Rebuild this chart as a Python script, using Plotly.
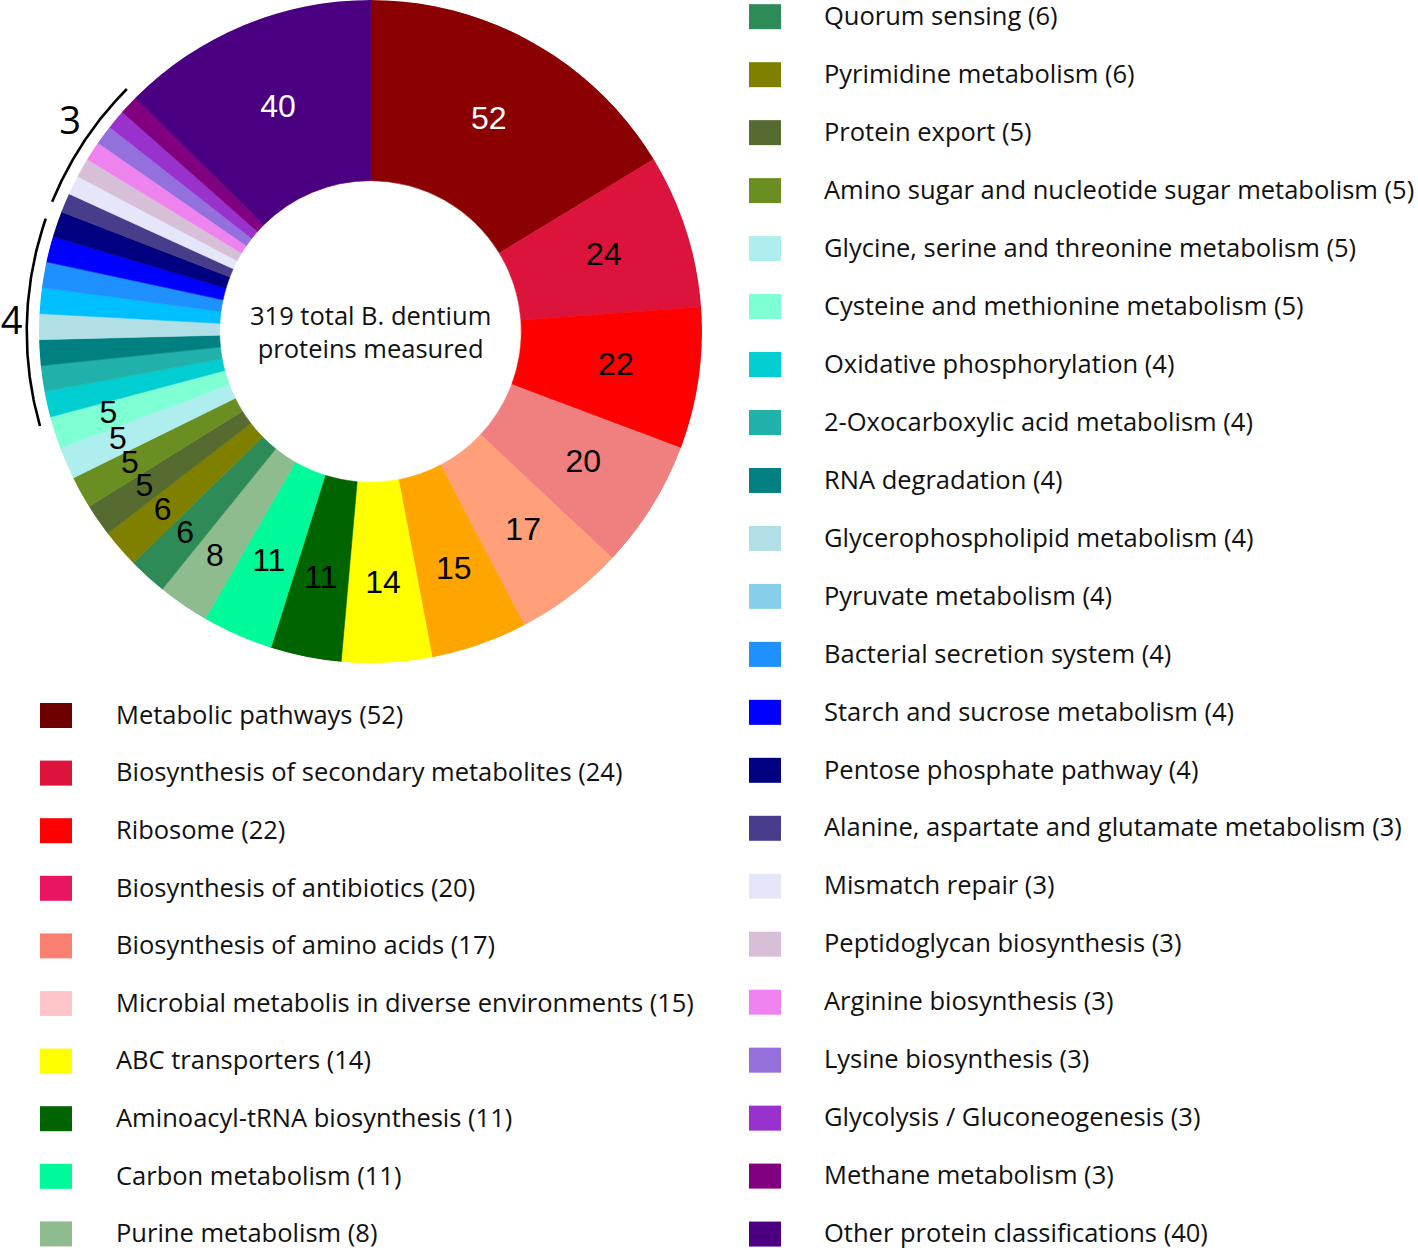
import numpy as np
import plotly.graph_objects as go

# ---------------- data ----------------
categories = [
    "Metabolic pathways", "Biosynthesis of secondary metabolites", "Ribosome",
    "Biosynthesis of antibiotics", "Biosynthesis of amino acids",
    "Microbial metabolis in diverse environments", "ABC transporters",
    "Aminoacyl-tRNA biosynthesis", "Carbon metabolism", "Purine metabolism",
    "Quorum sensing", "Pyrimidine metabolism", "Protein export",
    "Amino sugar and nucleotide sugar metabolism",
    "Glycine, serine and threonine metabolism",
    "Cysteine and methionine metabolism", "Oxidative phosphorylation",
    "2-Oxocarboxylic acid metabolism", "RNA degradation",
    "Glycerophospholipid metabolism", "Pyruvate metabolism",
    "Bacterial secretion system", "Starch and sucrose metabolism",
    "Pentose phosphate pathway", "Alanine, aspartate and glutamate metabolism",
    "Mismatch repair", "Peptidoglycan biosynthesis", "Arginine biosynthesis",
    "Lysine biosynthesis", "Glycolysis / Gluconeogenesis", "Methane metabolism",
    "Other protein classifications",
]
counts = [52, 24, 22, 20, 17, 15, 14, 11, 11, 8, 6, 6, 5, 5, 5, 5,
          4, 4, 4, 4, 4, 4, 4, 4, 3, 3, 3, 3, 3, 3, 3, 40]

slice_colors = [
    "#8B0000", "#DC143C", "#FF0000", "#F08080", "#FFA07A", "#FFA500", "#FFFF00",
    "#006400", "#00FA9A", "#8FBC8F", "#2E8B57", "#808000", "#556B2F", "#6B8E23",
    "#AFEEEE", "#7FFFD4", "#00CED1", "#20B2AA", "#008080", "#B0E0E6", "#00BFFF",
    "#1E90FF", "#0000FF", "#000080", "#483D8B", "#E6E6FA", "#D8BFD8", "#EE82EE",
    "#9370DB", "#9932CC", "#800080", "#4B0082",
]
legend_colors = [
    "#6F0000", "#DC143C", "#FF0000", "#E91562", "#FA8072", "#FFC5C8", "#FFFF00",
    "#006400", "#00FA9A", "#8FBC8F", "#2E8B57", "#808000", "#556B2F", "#6B8E23",
    "#AFEEEE", "#7FFFD4", "#00CED1", "#20B2AA", "#008080", "#B0E0E6", "#87CEEB",
    "#1E90FF", "#0000FF", "#000080", "#483D8B", "#E6E6FA", "#D8BFD8", "#EE82EE",
    "#9370DB", "#9932CC", "#800080", "#4B0082",
]
bracket_groups = [4, 3]          # counts grouped by an outer bracket
center_caption = "total B. dentium<br>proteins measured"

# ---------------- layout constants ----------------
W, H = 1418, 1250
HOLE = 0.455
PX0, PX1, PY0, PY1 = 38, 703, 0, 663          # donut box in pixels
DOM_X = [PX0 / W, PX1 / W]
DOM_Y = [1 - PY1 / H, 1 - PY0 / H]
CX, CY = (PX0 + PX1) / 2, (PY0 + PY1) / 2
RPX = min(PX1 - PX0, PY1 - PY0) / 2
TXT_FONT = "Open Sans, Noto Sans, sans-serif"
NUM_FONT = "Liberation Sans, Arial, sans-serif"
LEG_SIZE = 25.5

vals = np.array(counts, dtype=float)
total = int(vals.sum())
width = vals / total * 360.0
start = np.concatenate([[0.0], np.cumsum(width)[:-1]])
mid = start + width / 2

fig = go.Figure()

# donut sectors
fig.add_trace(go.Barpolar(
    theta=mid, width=width, r=[1 - HOLE] * len(vals), base=HOLE,
    marker=dict(color=slice_colors, line=dict(color=slice_colors, width=0.6)),
    hoverinfo="skip", showlegend=False,
))

# value labels inside sectors (only counts >= 5)
lab_idx = [i for i, v in enumerate(counts) if v >= 5]
lab_r = [(0.745 - 0.02 * np.cos(np.radians(mid[i]))) if counts[i] >= 11 else 0.83
         for i in lab_idx]
fig.add_trace(go.Scatterpolar(
    theta=[mid[i] for i in lab_idx],
    r=lab_r,
    text=[str(counts[i]) for i in lab_idx],
    mode="text",
    textfont=dict(family=NUM_FONT, size=32,
                  color=["white" if counts[i] >= 40 else "black" for i in lab_idx]),
    hoverinfo="skip", showlegend=False, cliponaxis=False,
))


def to_xy(theta_deg, rfrac):
    """clockwise-from-top angle -> pixel axis coords around the donut centre"""
    t = np.radians(theta_deg)
    return CX + rfrac * RPX * np.sin(t), CY - rfrac * RPX * np.cos(t)


# outer brackets for the small groups (drawn on the pixel cartesian axes)
for g in bracket_groups:
    idx = [i for i, v in enumerate(counts) if v == g]
    s = start[idx[0]]
    e = start[idx[-1]] + width[idx[-1]]
    off0, off1 = (-1.0, -2.0) if g == 4 else (1.0, 0.0)
    th = np.linspace(s + off0, e + off1, 80)
    ax_, ay_ = to_xy(th, 1.037)
    fig.add_trace(go.Scatter(
        x=ax_, y=ay_, mode="lines", line=dict(color="black", width=2.6),
        hoverinfo="skip", showlegend=False, cliponaxis=False,
    ))
    lx, ly = to_xy((s + e) / 2 + (-2.0 if g == 4 else 1.5), 1.083 if g == 4 else 1.10)
    fig.add_trace(go.Scatter(
        x=[lx], y=[ly], mode="text", text=[str(g)], textposition="middle center",
        textfont=dict(family=TXT_FONT, size=38, color="black"),
        hoverinfo="skip", showlegend=False, cliponaxis=False,
    ))

# ---------------- custom legend ----------------
shapes, annots = [], []
n_left = 10
for i, (name, v, c) in enumerate(zip(categories, counts, legend_colors)):
    if i < n_left:
        y = 715.5 + i * 57.6
        x0, tx = 40, 114
    else:
        y = 16.7 + (i - n_left) * 57.97
        x0, tx = 749, 822
    shapes.append(dict(type="rect", xref="x", yref="y", x0=x0, x1=x0 + 32,
                       y0=y - 12.5, y1=y + 12.5, fillcolor=c,
                       line=dict(width=0)))
    annots.append(dict(xref="x", yref="y", x=tx, y=y - 1.8, xanchor="left",
                       yanchor="middle", showarrow=False,
                       text=f"{name} ({v})",
                       font=dict(family=TXT_FONT, size=LEG_SIZE, color="#111111")))

# center caption
annots.append(dict(xref="x", yref="y", x=CX, y=CY, xanchor="center",
                   yanchor="middle", showarrow=False,
                   text=f"{total} {center_caption}",
                   font=dict(family=TXT_FONT, size=LEG_SIZE, color="#111111")))

fig.update_layout(
    width=W, height=H, margin=dict(l=0, r=0, t=0, b=0),
    paper_bgcolor="white", plot_bgcolor="rgba(0,0,0,0)", showlegend=False,
    polar=dict(
        domain=dict(x=DOM_X, y=DOM_Y), bgcolor="rgba(0,0,0,0)", bargap=0,
        radialaxis=dict(range=[0, 1], visible=False),
        angularaxis=dict(visible=False, direction="clockwise", rotation=90),
    ),
    xaxis=dict(range=[0, W], domain=[0, 1], visible=False, fixedrange=True),
    yaxis=dict(range=[H, 0], domain=[0, 1], visible=False, fixedrange=True),
    shapes=shapes, annotations=annots,
)

fig.write_html(
    "out.html",
    config={"displayModeBar": False},
    post_script="document.body.style.margin='0px';document.body.style.overflow='hidden';",
)
